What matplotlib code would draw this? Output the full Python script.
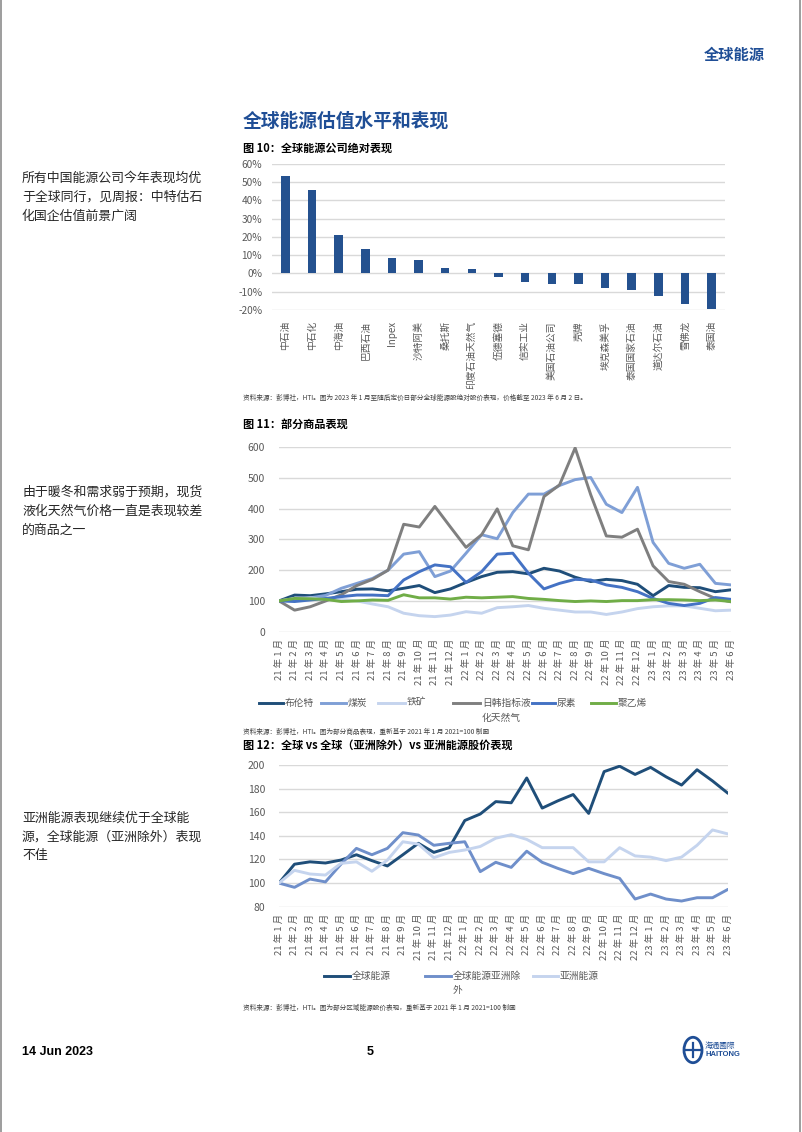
import matplotlib
matplotlib.use("Agg")
import matplotlib.pyplot as plt
from matplotlib.lines import Line2D
from matplotlib.patches import Circle

plt.rcParams['font.family'] = ['Noto Sans CJK SC', 'DejaVu Sans']

# 图10 数据
companies = ['中石油', '中石化', '中海油', '巴西石油', 'Inpex', '沙特阿美', '桑托斯', '印度石油天然气',
             '伍德塞德', '信实工业', '美国石油公司', '壳牌', '埃克森美孚', '泰国国家石油', '道达尔石油',
             '雪佛龙', '泰国油']
perf = [0.535, 0.46, 0.213, 0.136, 0.085, 0.075, 0.029, 0.022, -0.017, -0.045, -0.06, -0.06,
        -0.078, -0.09, -0.125, -0.165, -0.197]

# 月份标签
months = [f'{y} 年 {m} 月' for y in (21, 22) for m in range(1, 13)] + [f'23 年 {m} 月' for m in range(1, 7)]

# 图11 数据
brent = [100, 119, 117, 123, 130, 138, 139, 133, 141, 150, 127, 139, 160, 179, 193,
         195, 188, 206, 197, 177, 163, 170, 166, 154, 117, 150, 144, 143, 130, 136]
coal = [100, 105, 110, 118, 141, 157, 173, 200, 252, 260, 179, 197, 255, 315, 302,
        387, 447, 447, 475, 494, 501, 414, 387, 469, 290, 222, 206, 219, 157, 152]
iron = [100, 108, 110, 105, 105, 100, 90, 81, 60, 52, 49, 54, 65, 60, 78,
        81, 85, 76, 70, 64, 64, 56, 64, 75, 81, 84, 84, 76, 68, 70]
lng = [100, 70, 81, 100, 120, 150, 170, 200, 349, 340, 407, 340, 274, 315, 399,
       279, 266, 439, 477, 597, 445, 311, 307, 333, 214, 163, 154, 130, 108, 97]
urea = [100, 98, 103, 108, 114, 119, 119, 117, 168, 195, 217, 211, 160, 195, 252,
        255, 190, 139, 157, 170, 168, 152, 144, 130, 108, 92, 85, 92, 111, 105]
pe = [100, 108, 107, 105, 98, 100, 103, 102, 120, 110, 110, 106, 112, 110, 112,
      114, 108, 105, 101, 98, 100, 98, 101, 101, 104, 104, 103, 101, 103, 98]

# 图12 数据
glob = [100, 116, 118, 117, 119.5, 124, 119, 114.5, 124, 133.7, 126, 130, 153, 158.5, 169,
        168, 189, 163.5, 169.6, 175, 159, 194.4, 199, 192, 198, 190, 183, 196, 186.5, 176]
glob_ex = [100, 96.4, 103.4, 101, 116, 129.4, 124, 129.4, 142.7, 140.7, 132, 133.7, 135, 109.7, 117.6,
           113.3, 127, 117.6, 112.5, 108, 112.5, 108, 104, 86.5, 90.7, 86.5, 84.8, 87.6, 87.6, 94.7]
asia = [100, 110.8, 107.7, 106.8, 116.7, 118, 110, 119.5, 135, 133, 121.5, 126, 128, 131, 138,
        141, 137, 130, 130, 130, 118, 118, 130, 123, 122, 119, 122, 132, 145, 141.6]

W, H = 802, 1132
fig = plt.figure(figsize=(W / 100, H / 100), dpi=100)


def fx(x):
    return x / W


def fy(y):
    return 1 - y / H


def ftext(x, y, s, **kw):
    kw.setdefault('va', 'center')
    fig.text(fx(x), fy(y), s, **kw)


def add_ax(x0, y0, x1, y1):
    return fig.add_axes([fx(x0), fy(y1), (x1 - x0) / W, (y1 - y0) / H])


blue_title = '#1f4e96'
grid_c = '#d9d9d9'
tick_c = '#595959'

# 页面边框
fig.add_artist(Line2D([fx(1), fx(1)], [0, 1], color='#8c8c8c', lw=1.2))
fig.add_artist(Line2D([fx(800), fx(800)], [0, 1], color='#8c8c8c', lw=1.2))

# 页眉与标题
ftext(765, 55, '全球能源', ha='right', fontsize=11, fontweight='bold', color=blue_title)
ftext(243, 121, '全球能源估值水平和表现', fontsize=13.5, fontweight='bold', color=blue_title)

# 左侧说明
side = '#262626'
for i, s in enumerate(['所有中国能源公司今年表现均优', '于全球同行，见周报：中特估石', '化国企估值前景广阔']):
    ftext(22, 178 + i * 19, s, fontsize=9.3, color=side)
for i, s in enumerate(['由于暖冬和需求弱于预期，现货', '液化天然气价格一直是表现较差', '的商品之一']):
    ftext(22, 492 + i * 19, s, fontsize=9.3, color=side)
for i, s in enumerate(['亚洲能源表现继续优于全球能', '源，全球能源（亚洲除外）表现', '不佳']):
    ftext(22, 818 + i * 19, s, fontsize=9.3, color=side)

# 图10
ftext(243, 148, '图 10：全球能源公司绝对表现', fontsize=8, fontweight='bold')
ax1 = add_ax(272, 164, 725, 310)
ax1.bar(range(len(companies)), perf, width=0.32, color='#24518f', zorder=3)
ax1.set_xlim(-0.5, len(companies) - 0.5)
ax1.set_ylim(-0.2, 0.6)
ax1.set_yticks([i / 10 for i in range(-2, 7)])
ax1.set_yticklabels([f'{i * 10}%' for i in range(-2, 7)])
ax1.set_xticks(range(len(companies)))
ax1.set_xticklabels(companies, rotation=90, va='top', ha='center')
ax1.tick_params(axis='y', length=0, labelsize=7.3, colors=tick_c, pad=7)
ax1.tick_params(axis='x', length=0, labelsize=7, colors=tick_c, pad=8)
ax1.grid(axis='y', color=grid_c, lw=1, zorder=0)
for sp in ax1.spines.values():
    sp.set_visible(False)
ftext(243, 398, '资料来源：彭博社，HTI。图为 2023 年 1 月至随后定价日部分全球能源股绝对股价表现，价格截至 2023 年 6 月 2 日。',
      fontsize=4.8, color='#404040')


def style_line_ax(ax, ymin, ymax, step):
    ax.set_xlim(0, len(months) - 1)
    ax.set_ylim(ymin, ymax)
    ax.set_yticks(range(ymin, ymax + 1, step))
    ax.set_xticks(range(len(months)))
    ax.set_xticklabels(months, rotation=90, va='top', ha='center')
    ax.tick_params(axis='y', length=0, labelsize=7.5, colors=tick_c, pad=10)
    ax.tick_params(axis='x', length=0, labelsize=6.8, colors=tick_c, pad=5)
    ax.grid(axis='y', color=grid_c, lw=1, zorder=0)
    for sp in ax.spines.values():
        sp.set_visible(False)


# 图11
ftext(243, 424, '图 11：部分商品表现', fontsize=8, fontweight='bold')
ax2 = add_ax(279, 447, 731, 631.7)
series2 = [(brent, '#1f4e79'), (coal, '#7f9fd6'), (iron, '#c5d4ee'),
           (lng, '#7f7f7f'), (urea, '#4472c4'), (pe, '#70ad47')]
for vals, c in series2:
    ax2.plot(range(len(months)), vals, color=c, lw=2.1, zorder=3, solid_capstyle='round')
style_line_ax(ax2, 0, 600, 100)

leg2 = [(259, 285, '布伦特', '#1f4e79'), (321, 348, '煤炭', '#7f9fd6'), (378, 407, '铁矿', '#c5d4ee'),
        (453, 482, '日韩指标液', '#7f7f7f'), (532, 557, '尿素', '#4472c4'), (591, 618, '聚乙烯', '#70ad47')]
for x0, xt, lab, c in leg2:
    fig.add_artist(Line2D([fx(x0), fx(xt - 2)], [fy(703), fy(703)], color=c, lw=2.1))
    ftext(xt, 703, lab, fontsize=7, color=tick_c)
ftext(482, 718, '化天然气', fontsize=7, color=tick_c)
ftext(243, 732, '资料来源：彭博社，HTI。图为部分商品表现，重新基于 2021 年 1 月 2021=100 制画',
      fontsize=4.8, color='#404040')

# 图12
ftext(243, 745, '图 12：全球 vs 全球（亚洲除外）vs 亚洲能源股价表现', fontsize=8, fontweight='bold')
ax3 = add_ax(279, 765, 728, 906.7)
series3 = [(glob, '#1f4e79'), (glob_ex, '#6f8fca'), (asia, '#c5d4ee')]
for vals, c in series3:
    ax3.plot(range(len(months)), vals, color=c, lw=2.1, zorder=3, solid_capstyle='round')
style_line_ax(ax3, 80, 200, 20)

leg3 = [(324, 352, '全球能源', '#1f4e79'), (425, 453, '全球能源亚洲除', '#6f8fca'), (533, 560, '亚洲能源', '#c5d4ee')]
for x0, xt, lab, c in leg3:
    fig.add_artist(Line2D([fx(x0), fx(xt - 2)], [fy(976), fy(976)], color=c, lw=2.1))
    ftext(xt, 976, lab, fontsize=7, color=tick_c)
ftext(453, 990, '外', fontsize=7, color=tick_c)
ftext(243, 1008, '资料来源：彭博社，HTI。图为部分区域能源股价表现，重新基于 2021 年 1 月 2021=100 制画',
      fontsize=4.8, color='#404040')

# 页脚
ftext(22, 1052, '14 Jun 2023', fontsize=9, fontweight='bold', family=['Liberation Sans', 'DejaVu Sans'])
ftext(370, 1052, '5', fontsize=9, fontweight='bold', ha='center', family=['Liberation Sans', 'DejaVu Sans'])
fig.add_artist(Circle((fx(693), fy(1050)), 9 / W, transform=fig.transFigure,
                      facecolor='none', edgecolor='#1f4e96', lw=2))
fig.add_artist(Line2D([fx(686), fx(700)], [fy(1050), fy(1050)], color='#1f4e96', lw=1.6))
fig.add_artist(Line2D([fx(693), fx(693)], [fy(1043), fy(1057)], color='#1f4e96', lw=1.6))
ftext(705, 1046, '海通國際', fontsize=5.5, color='#1f4e96')
ftext(705, 1055, 'HAITONG', fontsize=5.5, color='#1f4e96', fontweight='bold', family=['Liberation Sans', 'DejaVu Sans'])

fig.savefig('out.png', dpi=100)
